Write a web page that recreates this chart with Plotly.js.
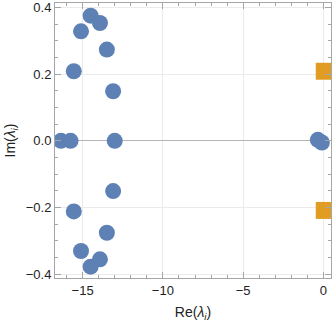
<!DOCTYPE html>
<html>
<head>
<meta charset="utf-8">
<script src="https://cdn.plot.ly/plotly-3.0.1.min.js"></script>
<style>html,body{margin:0;padding:0;background:#fff;}#chart{width:332px;height:322px;}</style>
</head>
<body>
<div id="chart"></div>
<script>
// Eigenvalues (blue circles)
const eigRe = [-14.5, -13.92, -15.1, -13.49, -15.55, -13.1,
               -14.5, -13.92, -15.1, -13.49, -15.55, -13.1,
               -16.35, -15.75, -13.0, -0.35, -0.1];
const eigIm = [0.376, 0.354, 0.329, 0.274, 0.209, 0.149,
               -0.378, -0.356, -0.331, -0.276, -0.212, -0.151,
               0.0, 0.0, 0.0, 0.003, -0.005];
// Orange squares
const sqRe = [0.05, 0.05];
const sqIm = [0.209, -0.209];

const xTickVals = [-15, -10, -5, 0];
const xTickText = ['\u221215', '\u221210', '\u22125', '0'];
const yTickVals = [-0.4, -0.2, 0.0, 0.2, 0.4];
const yTickText = ['\u22120.4', '\u22120.2', '0.0', '0.2', '0.4'];

const blue = '#5e81b5';
const orange = '#e19c24';

const traces = [
  {x: eigRe, y: eigIm, type: 'scatter', mode: 'markers',
   marker: {color: blue, size: 16, symbol: 'circle', line: {width: 0}},
   cliponaxis: true, hoverinfo: 'skip'},
  {x: sqRe, y: sqIm, type: 'scatter', mode: 'markers',
   marker: {color: orange, size: 17, symbol: 'square', line: {width: 0}},
   cliponaxis: true, hoverinfo: 'skip'}
];

const axisCommon = {
  showline: true, linecolor: '#a6a6a6', linewidth: 1, mirror: 'allticks',
  ticks: 'inside', ticklen: 6, tickcolor: '#a6a6a6', tickwidth: 1,
  showgrid: true, gridcolor: '#ebebeb', gridwidth: 1,
  tickfont: {family: 'Liberation Sans, Arial, sans-serif', size: 13, color: '#222'},
  fixedrange: true
};

const layout = {
  width: 332, height: 322,
  margin: {l: 55, r: 1, t: 3, b: 44},
  paper_bgcolor: '#fff', plot_bgcolor: '#fff',
  showlegend: false,
  xaxis: Object.assign({}, axisCommon, {
    range: [-16.72, 0.47],
    tickmode: 'array', tickvals: xTickVals, ticktext: xTickText,
    minor: {ticks: 'inside', ticklen: 3, dtick: 1, tick0: 0, tickcolor: '#a6a6a6', showgrid: false},
    zeroline: false,
    title: {text: 'Re(<i>\u03bb<sub>i</sub></i>)', font: {family: 'Liberation Sans, Arial, sans-serif', size: 14, color: '#222'}, standoff: 10}
  }),
  yaxis: Object.assign({}, axisCommon, {
    range: [-0.412, 0.414],
    tickmode: 'array', tickvals: yTickVals, ticktext: yTickText,
    minor: {ticks: 'inside', ticklen: 3, dtick: 0.05, tick0: 0, tickcolor: '#a6a6a6', showgrid: false},
    zeroline: true, zerolinecolor: '#b5b5b5', zerolinewidth: 1,
    title: {text: 'Im(<i>\u03bb<sub>i</sub></i>)', font: {family: 'Liberation Sans, Arial, sans-serif', size: 14, color: '#222'}, standoff: 6}
  })
};

Plotly.newPlot('chart', traces, layout, {staticPlot: true, displayModeBar: false});
</script>
</body>
</html>
